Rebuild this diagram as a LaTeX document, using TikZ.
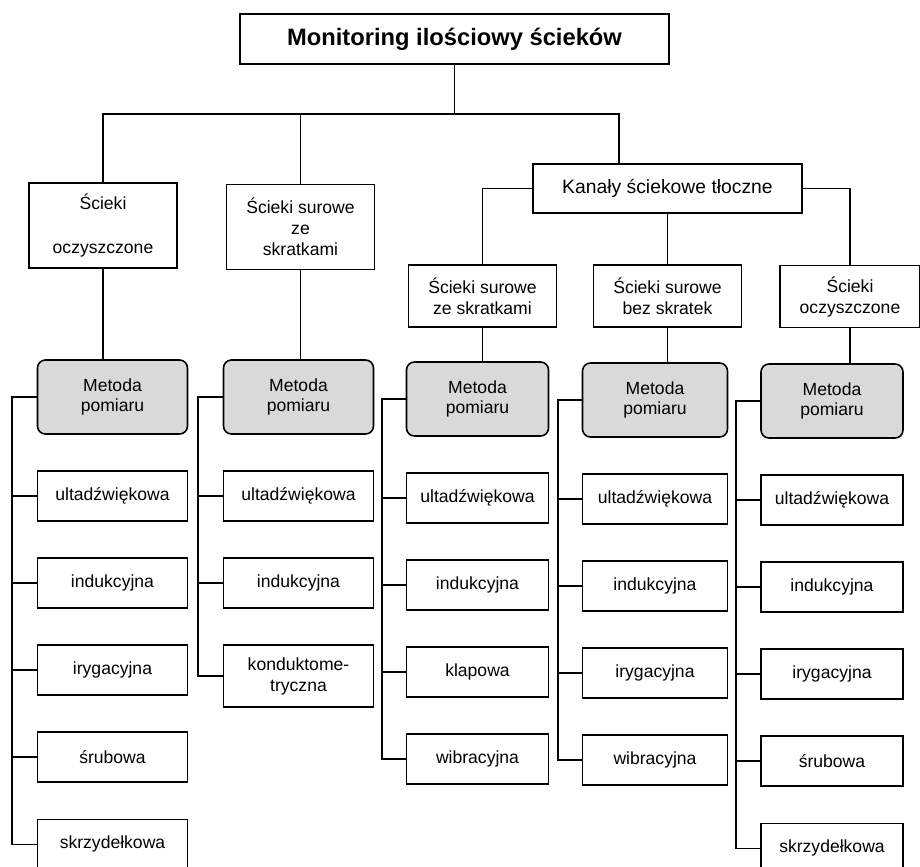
\documentclass[tikz,border=0pt]{standalone}
\usepackage{fontspec}
\setmainfont{Liberation Sans}
\usepackage{tikz}
\usetikzlibrary{positioning}
\definecolor{methodgray}{HTML}{D9D9D9}

\begin{document}
\begin{tikzpicture}[
  x=0.02cm, y=-0.02cm,
  node distance=7.1mm,
  box/.style={draw, line width=0.9pt, align=center, inner sep=2pt,
    font=\fontsize{10}{12}\selectfont},
  headbox/.style={box, minimum width=8.58cm, minimum height=1cm,
    font=\fontsize{13.5}{16}\selectfont\bfseries},
  groupbox/.style={box, minimum width=2.96cm, minimum height=1.7cm},
  channel/.style={box, minimum width=5.38cm, minimum height=0.98cm,
    font=\fontsize{11}{13}\selectfont},
  subbox/.style={box, minimum width=#1, minimum height=1.24cm},
  subbox/.default=2.96cm,
  method/.style={box, rounded corners=4.5pt, fill=methodgray,
    minimum width=#1, minimum height=1.48cm,
    font=\fontsize{10}{11.5}\selectfont},
  method/.default=3cm,
  leaf/.style={box, minimum width=#1, minimum height=1cm},
  leaf/.default=3cm,
  link/.style={line width=0.9pt},
]
\useasboundingbox (0,0) rectangle (920,866);

% top level
\node[headbox] (title) at (454.5,39) {Monitoring ilościowy ścieków};
\node[groupbox] (s1) at (103,225.5) {Ścieki\\[13pt]oczyszczone};
\node[groupbox] (s2) at (300.5,227) {Ścieki surowe\\ze\\skratkami};
\node[channel] (kan) at (667.5,188.5) {Kanały ściekowe tłoczne};

\node[subbox] (a) at (482.5,296) {Ścieki surowe\\ze skratkami};
\node[subbox] (b) at (667.5,296) {Ścieki surowe\\bez skratek};
\node[subbox=2.8cm] (c) at (850,296.5) {Ścieki\\oczyszczone};

% measuring methods
\node[method] (m1) at (112.5,397) {Metoda\\pomiaru};
\node[method] (m2) at (298.5,397) {Metoda\\pomiaru};
\node[method=2.84cm] (m3) at (477.5,399) {Metoda\\pomiaru};
\node[method=2.9cm] (m4) at (655,400) {Metoda\\pomiaru};
\node[method=2.84cm] (m5) at (832,401) {Metoda\\pomiaru};

% group 1
\node[leaf, below=of m1] (g1a) {ultadźwiękowa};
\node[leaf, below=of g1a] (g1b) {indukcyjna};
\node[leaf, below=of g1b] (g1c) {irygacyjna};
\node[leaf, below=of g1c] (g1d) {śrubowa};
\node[leaf, below=of g1d] (g1e) {skrzydełkowa};

% group 2
\node[leaf, below=of m2] (g2a) {ultadźwiękowa};
\node[leaf, below=of g2a] (g2b) {indukcyjna};
\node[leaf, below=of g2b, minimum height=1.24cm] (g2c) {konduktome-\\tryczna};

% group 3
\node[leaf=2.84cm, below=of m3] (g3a) {ultadźwiękowa};
\node[leaf=2.84cm, below=of g3a] (g3b) {indukcyjna};
\node[leaf=2.84cm, below=of g3b] (g3c) {klapowa};
\node[leaf=2.84cm, below=of g3c] (g3d) {wibracyjna};

% group 4
\node[leaf=2.9cm, below=of m4] (g4a) {ultadźwiękowa};
\node[leaf=2.9cm, below=of g4a] (g4b) {indukcyjna};
\node[leaf=2.9cm, below=of g4b] (g4c) {irygacyjna};
\node[leaf=2.9cm, below=of g4c] (g4d) {wibracyjna};

% group 5
\node[leaf=2.84cm, below=of m5] (g5a) {ultadźwiękowa};
\node[leaf=2.84cm, below=of g5a] (g5b) {indukcyjna};
\node[leaf=2.84cm, below=of g5b] (g5c) {irygacyjna};
\node[leaf=2.84cm, below=of g5c] (g5d) {śrubowa};
\node[leaf=2.84cm, below=of g5d] (g5e) {skrzydełkowa};

% tree connectors
\draw[link] (title.south) -- ++(0,49) coordinate (hub);
\draw[link] (hub) -| (s1.north);
\draw[link] (hub) -| ([xshift=-0.97cm]kan.north);
\draw[link] (s2.north) -- (s2.north |- hub);
\draw[link] (kan.west) -| (a.north);
\draw[link] (kan.east) -| (c.north);
\draw[link] (kan.south) -- (b.north);

\draw[link] (s1.south) -- (s1.south |- m1.north);
\draw[link] (s2.south) -- (s2.south |- m2.north);
\draw[link] (a.south) -- (a.south |- m3.north);
\draw[link] (b.south) -- (b.south |- m4.north);
\draw[link] (c.south) -- (c.south |- m5.north);

% combs
\draw[link] (m1.west) -- ++(-25,0) coordinate (sp1) |- (g1e.west);
\foreach \n in {g1a,g1b,g1c,g1d} \draw[link] (\n.west) -- (\n.west -| sp1);
\draw[link] (m2.west) -- ++(-25,0) coordinate (sp2) |- (g2c.west);
\foreach \n in {g2a,g2b} \draw[link] (\n.west) -- (\n.west -| sp2);
\draw[link] (m3.west) -- ++(-24,0) coordinate (sp3) |- (g3d.west);
\foreach \n in {g3a,g3b,g3c} \draw[link] (\n.west) -- (\n.west -| sp3);
\draw[link] (m4.west) -- ++(-24,0) coordinate (sp4) |- (g4d.west);
\foreach \n in {g4a,g4b,g4c} \draw[link] (\n.west) -- (\n.west -| sp4);
\draw[link] (m5.west) -- ++(-24,0) coordinate (sp5) |- (g5e.west);
\foreach \n in {g5a,g5b,g5c,g5d} \draw[link] (\n.west) -- (\n.west -| sp5);

\end{tikzpicture}
\end{document}
